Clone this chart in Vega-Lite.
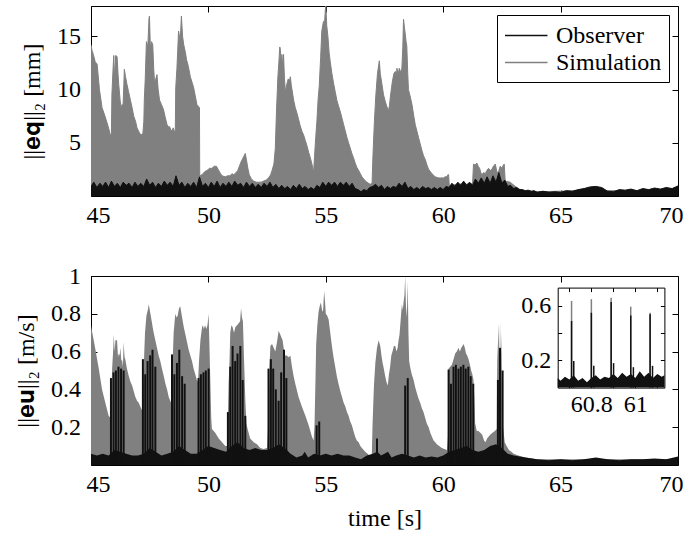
{
  "$schema": "https://vega.github.io/schema/vega-lite/v6.json",
  "padding": {"left": 14, "top": 5, "right": 5, "bottom": 5},
  "spacing": 37,
  "config": {
    "view": {"stroke": null},
    "font": "Liberation Serif",
    "style": {"guide-label": {"font": "Liberation Serif"}, "guide-title": {"font": "Liberation Serif"}},
    "axis": {"labelFont": "Liberation Serif", "labelFontSize": 24, "labelColor": "#000", "titleFont": "Liberation Serif", "titleFontSize": 24, "titleFontWeight": "normal", "titleColor": "#000", "domainColor": "#000", "tickColor": "#000", "grid": false, "zindex": 1, "tickSize": -6, "domainWidth": 1, "tickWidth": 1},
    "legend": {"orient": "top-right", "offset": 9, "padding": 7, "strokeColor": "#000", "fillColor": "#fff", "symbolType": "M-1,0H2.4", "symbolSize": 625, "symbolStrokeWidth": 1.5, "labelFont": "Liberation Serif", "labelFontSize": 24, "labelColor": "#000", "labelOffset": 25, "rowPadding": 1, "labelLimit": 300}
  },
  "resolve": {"scale": {"color": "independent"}, "legend": {"color": "independent"}},
  "datasets": {
    "topSim": [
      {"t":45.00,"v":14.2},{"t":45.04,"v":13.7},{"t":45.10,"v":13.3},{"t":45.18,"v":12.6},{"t":45.26,"v":12.4},{"t":45.36,"v":10.0},{"t":45.47,"v":8.3},{"t":45.58,"v":7.6},{"t":45.68,"v":6.9},{"t":45.76,"v":6.3},{"t":45.83,"v":5.6},{"t":45.87,"v":6.0},{"t":45.89,"v":9.5},{"t":45.93,"v":11.5},{"t":45.97,"v":13.2},{"t":46.00,"v":11.0},{"t":46.05,"v":13.2},{"t":46.11,"v":13.1},{"t":46.15,"v":11.5},{"t":46.18,"v":10.5},{"t":46.24,"v":9.0},{"t":46.28,"v":8.3},{"t":46.33,"v":8.6},{"t":46.36,"v":8.3},{"t":46.40,"v":10.5},{"t":46.42,"v":11.9},{"t":46.47,"v":11.2},{"t":46.53,"v":10.5},{"t":46.60,"v":9.8},{"t":46.68,"v":9.0},{"t":46.75,"v":8.3},{"t":46.82,"v":7.5},{"t":46.90,"v":7.0},{"t":46.96,"v":6.4},{"t":47.05,"v":6.0},{"t":47.13,"v":5.7},{"t":47.21,"v":5.9},{"t":47.25,"v":7.0},{"t":47.27,"v":9.0},{"t":47.31,"v":11.0},{"t":47.36,"v":14.5},{"t":47.42,"v":14.0},{"t":47.47,"v":16.7},{"t":47.49,"v":16.9},{"t":47.53,"v":13.8},{"t":47.58,"v":14.5},{"t":47.63,"v":14.2},{"t":47.67,"v":12.0},{"t":47.71,"v":10.5},{"t":47.76,"v":11.0},{"t":47.81,"v":11.4},{"t":47.86,"v":10.0},{"t":47.92,"v":9.0},{"t":48.00,"v":8.6},{"t":48.09,"v":8.1},{"t":48.16,"v":7.4},{"t":48.24,"v":6.7},{"t":48.30,"v":6.5},{"t":48.35,"v":6.5},{"t":48.40,"v":6.2},{"t":48.45,"v":6.1},{"t":48.50,"v":6.4},{"t":48.55,"v":6.1},{"t":48.59,"v":6.0},{"t":48.61,"v":10.2},{"t":48.66,"v":12.0},{"t":48.73,"v":15.5},{"t":48.80,"v":14.5},{"t":48.85,"v":16.9},{"t":48.90,"v":15.0},{"t":48.95,"v":14.2},{"t":49.02,"v":13.5},{"t":49.07,"v":12.8},{"t":49.12,"v":12.4},{"t":49.18,"v":11.8},{"t":49.23,"v":11.2},{"t":49.30,"v":10.7},{"t":49.37,"v":10.2},{"t":49.44,"v":9.4},{"t":49.51,"v":8.6},{"t":49.58,"v":8.4},{"t":49.62,"v":8.3},{"t":49.63,"v":1.9},{"t":49.73,"v":2.0},{"t":49.85,"v":2.3},{"t":49.94,"v":2.4},{"t":50.05,"v":2.6},{"t":50.15,"v":2.6},{"t":50.25,"v":2.8},{"t":50.34,"v":2.8},{"t":50.44,"v":2.4},{"t":50.52,"v":2.1},{"t":50.58,"v":1.9},{"t":50.72,"v":1.8},{"t":50.82,"v":1.9},{"t":50.93,"v":1.9},{"t":51.00,"v":2.1},{"t":51.08,"v":2.0},{"t":51.18,"v":2.2},{"t":51.25,"v":2.4},{"t":51.32,"v":2.8},{"t":51.39,"v":3.2},{"t":51.48,"v":3.6},{"t":51.57,"v":4.0},{"t":51.62,"v":3.4},{"t":51.68,"v":2.6},{"t":51.74,"v":2.0},{"t":51.83,"v":1.6},{"t":51.93,"v":1.4},{"t":52.04,"v":1.3},{"t":52.14,"v":1.3},{"t":52.25,"v":1.3},{"t":52.35,"v":1.4},{"t":52.46,"v":1.5},{"t":52.56,"v":1.7},{"t":52.65,"v":2.0},{"t":52.71,"v":2.4},{"t":52.79,"v":3.0},{"t":52.85,"v":4.5},{"t":52.90,"v":8.0},{"t":52.96,"v":11.2},{"t":53.00,"v":12.5},{"t":53.04,"v":14.0},{"t":53.06,"v":13.8},{"t":53.10,"v":12.5},{"t":53.13,"v":13.3},{"t":53.17,"v":12.0},{"t":53.20,"v":13.3},{"t":53.24,"v":11.0},{"t":53.28,"v":9.8},{"t":53.34,"v":10.5},{"t":53.40,"v":11.0},{"t":53.45,"v":10.8},{"t":53.49,"v":11.2},{"t":53.53,"v":10.4},{"t":53.56,"v":10.0},{"t":53.63,"v":9.0},{"t":53.70,"v":8.3},{"t":53.77,"v":7.8},{"t":53.84,"v":7.2},{"t":53.91,"v":6.6},{"t":53.98,"v":6.1},{"t":54.06,"v":5.7},{"t":54.13,"v":5.2},{"t":54.20,"v":4.7},{"t":54.27,"v":4.1},{"t":54.34,"v":3.6},{"t":54.41,"v":3.0},{"t":54.48,"v":2.2},{"t":54.52,"v":3.7},{"t":54.57,"v":5.5},{"t":54.62,"v":7.0},{"t":54.67,"v":9.0},{"t":54.72,"v":10.3},{"t":54.78,"v":13.0},{"t":54.83,"v":15.5},{"t":54.90,"v":16.4},{"t":54.95,"v":16.4},{"t":54.98,"v":17.5},{"t":55.00,"v":17.9},{"t":55.04,"v":16.0},{"t":55.09,"v":15.0},{"t":55.14,"v":13.5},{"t":55.19,"v":12.6},{"t":55.26,"v":11.5},{"t":55.33,"v":10.6},{"t":55.40,"v":9.8},{"t":55.47,"v":9.0},{"t":55.55,"v":8.4},{"t":55.62,"v":7.9},{"t":55.69,"v":7.3},{"t":55.76,"v":6.7},{"t":55.83,"v":6.1},{"t":55.90,"v":5.5},{"t":55.97,"v":5.0},{"t":56.04,"v":4.5},{"t":56.11,"v":4.0},{"t":56.18,"v":3.6},{"t":56.25,"v":3.1},{"t":56.32,"v":2.7},{"t":56.40,"v":2.4},{"t":56.47,"v":2.1},{"t":56.54,"v":1.8},{"t":56.61,"v":1.6},{"t":56.68,"v":1.45},{"t":56.75,"v":1.3},{"t":56.82,"v":1.2},{"t":56.89,"v":1.1},{"t":56.97,"v":1.2},{"t":57.01,"v":3.9},{"t":57.07,"v":7.0},{"t":57.13,"v":9.4},{"t":57.20,"v":11.5},{"t":57.28,"v":12.7},{"t":57.32,"v":11.5},{"t":57.39,"v":10.5},{"t":57.46,"v":9.5},{"t":57.53,"v":8.9},{"t":57.60,"v":8.4},{"t":57.67,"v":8.0},{"t":57.71,"v":8.5},{"t":57.75,"v":9.3},{"t":57.80,"v":10.2},{"t":57.84,"v":10.8},{"t":57.90,"v":11.5},{"t":57.96,"v":11.7},{"t":58.00,"v":11.2},{"t":58.03,"v":12.0},{"t":58.08,"v":11.4},{"t":58.13,"v":12.0},{"t":58.19,"v":11.6},{"t":58.24,"v":12.0},{"t":58.28,"v":14.0},{"t":58.31,"v":16.6},{"t":58.35,"v":15.8},{"t":58.38,"v":15.3},{"t":58.42,"v":14.5},{"t":58.45,"v":14.1},{"t":58.49,"v":11.5},{"t":58.52,"v":10.0},{"t":58.60,"v":9.3},{"t":58.67,"v":8.6},{"t":58.74,"v":7.6},{"t":58.81,"v":6.7},{"t":58.88,"v":6.1},{"t":58.95,"v":5.5},{"t":59.02,"v":4.9},{"t":59.09,"v":4.3},{"t":59.16,"v":3.8},{"t":59.24,"v":3.4},{"t":59.31,"v":2.9},{"t":59.38,"v":2.5},{"t":59.45,"v":2.3},{"t":59.52,"v":2.1},{"t":59.59,"v":1.95},{"t":59.66,"v":1.8},{"t":59.73,"v":1.75},{"t":59.80,"v":1.7},{"t":59.90,"v":1.7},{"t":60.01,"v":1.7},{"t":60.08,"v":1.8},{"t":60.16,"v":1.8},{"t":60.20,"v":2.0},{"t":60.23,"v":2.0},{"t":60.26,"v":0.95},{"t":60.40,"v":1.0},{"t":60.55,"v":1.1},{"t":60.70,"v":1.1},{"t":60.85,"v":1.2},{"t":61.00,"v":1.1},{"t":61.15,"v":1.2},{"t":61.25,"v":1.1},{"t":61.29,"v":3.0},{"t":61.36,"v":2.9},{"t":61.43,"v":3.1},{"t":61.49,"v":2.8},{"t":61.55,"v":2.6},{"t":61.60,"v":2.2},{"t":61.65,"v":2.0},{"t":61.72,"v":2.2},{"t":61.79,"v":2.1},{"t":61.86,"v":2.4},{"t":61.93,"v":2.6},{"t":62.00,"v":2.4},{"t":62.07,"v":2.5},{"t":62.14,"v":2.8},{"t":62.22,"v":3.0},{"t":62.29,"v":2.2},{"t":62.36,"v":2.3},{"t":62.43,"v":2.8},{"t":62.50,"v":2.6},{"t":62.56,"v":2.9},{"t":62.60,"v":3.0},{"t":62.64,"v":1.4},{"t":62.75,"v":1.35},{"t":62.85,"v":1.3},{"t":62.96,"v":1.1},{"t":63.07,"v":0.9},{"t":63.18,"v":0.75},{"t":63.28,"v":0.6},{"t":63.40,"v":0.5},{"t":64.00,"v":0.4},{"t":66.00,"v":0.5},{"t":68.00,"v":0.5},{"t":70.00,"v":0.6}
    ],
    "topObs": [
      {"t":45.00,"v":0.9},{"t":45.12,"v":1.3},{"t":45.25,"v":0.8},{"t":45.38,"v":1.2},{"t":45.50,"v":0.9},{"t":45.62,"v":1.3},{"t":45.75,"v":0.8},{"t":45.87,"v":1.4},{"t":46.00,"v":0.9},{"t":46.12,"v":1.2},{"t":46.25,"v":0.8},{"t":46.37,"v":1.3},{"t":46.50,"v":1.0},{"t":46.62,"v":1.2},{"t":46.75,"v":0.8},{"t":46.87,"v":1.3},{"t":47.00,"v":0.9},{"t":47.12,"v":1.2},{"t":47.25,"v":0.9},{"t":47.37,"v":1.6},{"t":47.50,"v":1.0},{"t":47.62,"v":1.3},{"t":47.75,"v":0.8},{"t":47.87,"v":1.2},{"t":48.00,"v":0.9},{"t":48.12,"v":1.4},{"t":48.25,"v":1.0},{"t":48.37,"v":1.3},{"t":48.50,"v":0.9},{"t":48.62,"v":1.9},{"t":48.75,"v":1.0},{"t":48.87,"v":1.3},{"t":49.00,"v":0.8},{"t":49.12,"v":1.2},{"t":49.25,"v":0.9},{"t":49.37,"v":1.3},{"t":49.50,"v":0.8},{"t":49.62,"v":1.8},{"t":49.75,"v":0.9},{"t":49.87,"v":1.2},{"t":50.00,"v":0.8},{"t":50.12,"v":1.3},{"t":50.25,"v":0.9},{"t":50.37,"v":1.4},{"t":50.50,"v":0.8},{"t":50.62,"v":1.2},{"t":50.75,"v":0.9},{"t":50.87,"v":1.3},{"t":51.00,"v":0.9},{"t":51.12,"v":1.4},{"t":51.25,"v":1.0},{"t":51.37,"v":1.2},{"t":51.50,"v":0.8},{"t":51.62,"v":1.3},{"t":51.75,"v":0.9},{"t":51.87,"v":1.2},{"t":52.00,"v":0.8},{"t":52.12,"v":1.1},{"t":52.25,"v":0.8},{"t":52.37,"v":1.2},{"t":52.50,"v":0.9},{"t":52.62,"v":1.3},{"t":52.75,"v":0.8},{"t":52.87,"v":1.1},{"t":53.00,"v":0.7},{"t":53.12,"v":1.0},{"t":53.25,"v":0.7},{"t":53.37,"v":0.9},{"t":53.50,"v":0.6},{"t":53.62,"v":1.0},{"t":53.75,"v":0.7},{"t":53.87,"v":1.1},{"t":54.00,"v":0.7},{"t":54.12,"v":0.9},{"t":54.25,"v":0.6},{"t":54.37,"v":0.8},{"t":54.50,"v":0.6},{"t":54.62,"v":1.0},{"t":54.75,"v":0.8},{"t":54.87,"v":1.3},{"t":55.00,"v":0.9},{"t":55.12,"v":1.3},{"t":55.25,"v":1.0},{"t":55.37,"v":1.3},{"t":55.50,"v":0.9},{"t":55.62,"v":1.3},{"t":55.75,"v":1.0},{"t":55.87,"v":1.3},{"t":56.00,"v":0.9},{"t":56.12,"v":1.2},{"t":56.25,"v":0.7},{"t":56.37,"v":0.6},{"t":56.50,"v":0.4},{"t":56.62,"v":0.6},{"t":56.75,"v":0.5},{"t":56.87,"v":0.8},{"t":57.00,"v":0.9},{"t":57.12,"v":1.1},{"t":57.25,"v":0.8},{"t":57.37,"v":1.0},{"t":57.50,"v":0.6},{"t":57.62,"v":0.9},{"t":57.75,"v":0.7},{"t":57.87,"v":0.9},{"t":58.00,"v":0.8},{"t":58.12,"v":1.2},{"t":58.25,"v":0.9},{"t":58.37,"v":1.3},{"t":58.50,"v":0.7},{"t":58.62,"v":0.9},{"t":58.75,"v":0.6},{"t":58.87,"v":0.8},{"t":59.00,"v":0.6},{"t":59.12,"v":0.9},{"t":59.25,"v":0.7},{"t":59.37,"v":0.8},{"t":59.50,"v":0.6},{"t":59.62,"v":0.8},{"t":59.75,"v":0.6},{"t":59.87,"v":0.8},{"t":60.00,"v":0.6},{"t":60.12,"v":0.9},{"t":60.25,"v":0.8},{"t":60.37,"v":1.2},{"t":60.50,"v":0.9},{"t":60.62,"v":1.3},{"t":60.75,"v":1.0},{"t":60.87,"v":1.4},{"t":61.00,"v":1.0},{"t":61.12,"v":1.3},{"t":61.25,"v":1.0},{"t":61.37,"v":1.6},{"t":61.50,"v":1.2},{"t":61.62,"v":1.7},{"t":61.75,"v":1.2},{"t":61.87,"v":1.8},{"t":62.00,"v":1.2},{"t":62.12,"v":1.9},{"t":62.25,"v":1.3},{"t":62.37,"v":2.2},{"t":62.50,"v":1.2},{"t":62.62,"v":1.5},{"t":62.75,"v":0.9},{"t":62.87,"v":1.0},{"t":63.00,"v":0.7},{"t":63.12,"v":0.8},{"t":63.25,"v":0.6},{"t":63.37,"v":0.6},{"t":63.50,"v":0.5},{"t":63.62,"v":0.55},{"t":63.75,"v":0.45},{"t":63.87,"v":0.5},{"t":64.00,"v":0.35},{"t":64.25,"v":0.45},{"t":64.50,"v":0.35},{"t":64.75,"v":0.4},{"t":65.00,"v":0.35},{"t":65.25,"v":0.5},{"t":65.50,"v":0.45},{"t":65.75,"v":0.6},{"t":66.00,"v":0.7},{"t":66.25,"v":0.85},{"t":66.50,"v":0.9},{"t":66.75,"v":0.8},{"t":67.00,"v":0.45},{"t":67.25,"v":0.4},{"t":67.50,"v":0.6},{"t":67.75,"v":0.55},{"t":68.00,"v":0.65},{"t":68.25,"v":0.5},{"t":68.50,"v":0.7},{"t":68.75,"v":0.6},{"t":69.00,"v":0.75},{"t":69.25,"v":0.65},{"t":69.50,"v":0.8},{"t":69.75,"v":0.7},{"t":70.00,"v":0.95}
    ],
    "botSim": [
      {"t":45.00,"v":0.74},{"t":45.04,"v":0.71},{"t":45.19,"v":0.61},{"t":45.33,"v":0.51},{"t":45.47,"v":0.40},{"t":45.61,"v":0.33},{"t":45.75,"v":0.26},{"t":45.82,"v":0.25},{"t":45.85,"v":0.30},{"t":45.90,"v":0.51},{"t":45.95,"v":0.62},{"t":45.97,"v":0.69},{"t":46.01,"v":0.60},{"t":46.04,"v":0.66},{"t":46.11,"v":0.66},{"t":46.15,"v":0.57},{"t":46.18,"v":0.59},{"t":46.22,"v":0.58},{"t":46.25,"v":0.62},{"t":46.29,"v":0.55},{"t":46.32,"v":0.56},{"t":46.36,"v":0.52},{"t":46.39,"v":0.65},{"t":46.43,"v":0.57},{"t":46.46,"v":0.56},{"t":46.53,"v":0.51},{"t":46.61,"v":0.47},{"t":46.68,"v":0.44},{"t":46.75,"v":0.42},{"t":46.82,"v":0.39},{"t":46.89,"v":0.36},{"t":46.96,"v":0.34},{"t":47.03,"v":0.33},{"t":47.10,"v":0.31},{"t":47.17,"v":0.29},{"t":47.21,"v":0.30},{"t":47.24,"v":0.50},{"t":47.30,"v":0.70},{"t":47.36,"v":0.79},{"t":47.42,"v":0.82},{"t":47.46,"v":0.85},{"t":47.53,"v":0.80},{"t":47.60,"v":0.75},{"t":47.64,"v":0.72},{"t":47.67,"v":0.70},{"t":47.74,"v":0.66},{"t":47.81,"v":0.62},{"t":47.88,"v":0.58},{"t":47.95,"v":0.55},{"t":48.02,"v":0.51},{"t":48.10,"v":0.47},{"t":48.17,"v":0.43},{"t":48.24,"v":0.40},{"t":48.31,"v":0.36},{"t":48.41,"v":0.33},{"t":48.45,"v":0.45},{"t":48.52,"v":0.70},{"t":48.59,"v":0.80},{"t":48.64,"v":0.78},{"t":48.69,"v":0.79},{"t":48.75,"v":0.83},{"t":48.80,"v":0.84},{"t":48.88,"v":0.78},{"t":48.95,"v":0.73},{"t":49.02,"v":0.69},{"t":49.09,"v":0.65},{"t":49.16,"v":0.61},{"t":49.23,"v":0.58},{"t":49.30,"v":0.55},{"t":49.37,"v":0.51},{"t":49.44,"v":0.48},{"t":49.51,"v":0.45},{"t":49.56,"v":0.44},{"t":49.60,"v":0.55},{"t":49.66,"v":0.66},{"t":49.73,"v":0.73},{"t":49.77,"v":0.74},{"t":49.80,"v":0.72},{"t":49.86,"v":0.74},{"t":49.91,"v":0.72},{"t":49.96,"v":0.74},{"t":50.01,"v":0.80},{"t":50.05,"v":0.60},{"t":50.08,"v":0.45},{"t":50.12,"v":0.25},{"t":50.15,"v":0.19},{"t":50.29,"v":0.17},{"t":50.44,"v":0.14},{"t":50.58,"v":0.12},{"t":50.72,"v":0.10},{"t":50.80,"v":0.10},{"t":50.82,"v":0.20},{"t":50.86,"v":0.43},{"t":50.90,"v":0.55},{"t":50.93,"v":0.70},{"t":50.98,"v":0.74},{"t":51.03,"v":0.73},{"t":51.09,"v":0.70},{"t":51.15,"v":0.73},{"t":51.22,"v":0.74},{"t":51.29,"v":0.75},{"t":51.35,"v":0.76},{"t":51.39,"v":0.83},{"t":51.43,"v":0.78},{"t":51.47,"v":0.76},{"t":51.52,"v":0.55},{"t":51.57,"v":0.35},{"t":51.62,"v":0.22},{"t":51.67,"v":0.19},{"t":51.78,"v":0.14},{"t":51.93,"v":0.12},{"t":52.07,"v":0.11},{"t":52.21,"v":0.09},{"t":52.35,"v":0.085},{"t":52.50,"v":0.09},{"t":52.56,"v":0.25},{"t":52.60,"v":0.52},{"t":52.64,"v":0.63},{"t":52.71,"v":0.64},{"t":52.78,"v":0.62},{"t":52.85,"v":0.60},{"t":52.92,"v":0.65},{"t":52.99,"v":0.71},{"t":53.06,"v":0.69},{"t":53.16,"v":0.66},{"t":53.25,"v":0.58},{"t":53.34,"v":0.58},{"t":53.42,"v":0.57},{"t":53.49,"v":0.58},{"t":53.56,"v":0.52},{"t":53.63,"v":0.47},{"t":53.70,"v":0.43},{"t":53.84,"v":0.36},{"t":53.98,"v":0.31},{"t":54.13,"v":0.26},{"t":54.27,"v":0.21},{"t":54.41,"v":0.15},{"t":54.48,"v":0.13},{"t":54.52,"v":0.21},{"t":54.56,"v":0.45},{"t":54.59,"v":0.64},{"t":54.64,"v":0.74},{"t":54.69,"v":0.81},{"t":54.74,"v":0.84},{"t":54.79,"v":0.86},{"t":54.84,"v":0.82},{"t":54.88,"v":0.81},{"t":54.93,"v":0.92},{"t":54.97,"v":0.86},{"t":55.00,"v":0.80},{"t":55.06,"v":0.79},{"t":55.12,"v":0.77},{"t":55.19,"v":0.70},{"t":55.26,"v":0.63},{"t":55.33,"v":0.57},{"t":55.40,"v":0.52},{"t":55.47,"v":0.47},{"t":55.54,"v":0.43},{"t":55.62,"v":0.39},{"t":55.69,"v":0.36},{"t":55.76,"v":0.33},{"t":55.83,"v":0.31},{"t":55.90,"v":0.28},{"t":55.97,"v":0.26},{"t":56.04,"v":0.23},{"t":56.11,"v":0.21},{"t":56.18,"v":0.18},{"t":56.25,"v":0.15},{"t":56.32,"v":0.13},{"t":56.40,"v":0.12},{"t":56.47,"v":0.10},{"t":56.54,"v":0.09},{"t":56.61,"v":0.08},{"t":56.68,"v":0.07},{"t":56.78,"v":0.06},{"t":56.89,"v":0.046},{"t":56.96,"v":0.06},{"t":56.99,"v":0.21},{"t":57.05,"v":0.42},{"t":57.11,"v":0.54},{"t":57.18,"v":0.62},{"t":57.25,"v":0.66},{"t":57.32,"v":0.63},{"t":57.37,"v":0.58},{"t":57.42,"v":0.54},{"t":57.47,"v":0.51},{"t":57.53,"v":0.47},{"t":57.58,"v":0.44},{"t":57.64,"v":0.42},{"t":57.69,"v":0.48},{"t":57.74,"v":0.52},{"t":57.79,"v":0.58},{"t":57.84,"v":0.60},{"t":57.90,"v":0.63},{"t":57.96,"v":0.63},{"t":58.01,"v":0.60},{"t":58.06,"v":0.62},{"t":58.10,"v":0.66},{"t":58.14,"v":0.69},{"t":58.19,"v":0.77},{"t":58.24,"v":0.85},{"t":58.28,"v":0.82},{"t":58.31,"v":0.86},{"t":58.35,"v":0.90},{"t":58.38,"v":0.999},{"t":58.41,"v":0.85},{"t":58.45,"v":0.78},{"t":58.49,"v":0.97},{"t":58.52,"v":0.70},{"t":58.55,"v":0.55},{"t":58.59,"v":0.52},{"t":58.66,"v":0.48},{"t":58.74,"v":0.45},{"t":58.81,"v":0.41},{"t":58.88,"v":0.38},{"t":58.95,"v":0.35},{"t":59.02,"v":0.33},{"t":59.09,"v":0.30},{"t":59.16,"v":0.28},{"t":59.23,"v":0.25},{"t":59.30,"v":0.22},{"t":59.38,"v":0.20},{"t":59.45,"v":0.17},{"t":59.52,"v":0.15},{"t":59.59,"v":0.13},{"t":59.66,"v":0.12},{"t":59.73,"v":0.11},{"t":59.83,"v":0.10},{"t":59.94,"v":0.09},{"t":60.05,"v":0.085},{"t":60.16,"v":0.08},{"t":60.20,"v":0.15},{"t":60.23,"v":0.51},{"t":60.30,"v":0.52},{"t":60.37,"v":0.53},{"t":60.44,"v":0.56},{"t":60.51,"v":0.59},{"t":60.58,"v":0.60},{"t":60.65,"v":0.62},{"t":60.71,"v":0.60},{"t":60.77,"v":0.62},{"t":60.82,"v":0.63},{"t":60.87,"v":0.64},{"t":60.92,"v":0.62},{"t":60.97,"v":0.59},{"t":61.02,"v":0.58},{"t":61.08,"v":0.56},{"t":61.14,"v":0.53},{"t":61.19,"v":0.50},{"t":61.24,"v":0.48},{"t":61.29,"v":0.45},{"t":61.33,"v":0.35},{"t":61.36,"v":0.22},{"t":61.43,"v":0.18},{"t":61.50,"v":0.18},{"t":61.58,"v":0.17},{"t":61.66,"v":0.16},{"t":61.74,"v":0.13},{"t":61.80,"v":0.12},{"t":61.87,"v":0.14},{"t":61.93,"v":0.15},{"t":62.00,"v":0.16},{"t":62.10,"v":0.17},{"t":62.20,"v":0.18},{"t":62.28,"v":0.19},{"t":62.30,"v":0.55},{"t":62.33,"v":0.64},{"t":62.36,"v":0.75},{"t":62.39,"v":0.45},{"t":62.42,"v":0.76},{"t":62.45,"v":0.50},{"t":62.48,"v":0.70},{"t":62.51,"v":0.35},{"t":62.55,"v":0.20},{"t":62.62,"v":0.12},{"t":62.70,"v":0.10},{"t":62.80,"v":0.08},{"t":62.90,"v":0.07},{"t":63.00,"v":0.06},{"t":63.20,"v":0.05},{"t":63.50,"v":0.04},{"t":64.00,"v":0.03},{"t":66.00,"v":0.03},{"t":68.00,"v":0.03},{"t":70.00,"v":0.03}
    ],
    "botObs": [
      {"t":45.0,"v":0.06},{"t":45.25,"v":0.05},{"t":45.5,"v":0.06},{"t":45.75,"v":0.05},{"t":46.0,"v":0.08},{"t":46.25,"v":0.07},{"t":46.5,"v":0.06},{"t":46.75,"v":0.05},{"t":47.0,"v":0.05},{"t":47.25,"v":0.06},{"t":47.5,"v":0.09},{"t":47.75,"v":0.07},{"t":48.0,"v":0.05},{"t":48.25,"v":0.06},{"t":48.5,"v":0.07},{"t":48.75,"v":0.10},{"t":49.0,"v":0.08},{"t":49.25,"v":0.06},{"t":49.5,"v":0.06},{"t":49.75,"v":0.08},{"t":50.0,"v":0.10},{"t":50.25,"v":0.09},{"t":50.5,"v":0.08},{"t":50.75,"v":0.07},{"t":51.0,"v":0.10},{"t":51.25,"v":0.12},{"t":51.5,"v":0.09},{"t":51.75,"v":0.08},{"t":52.0,"v":0.09},{"t":52.25,"v":0.08},{"t":52.5,"v":0.08},{"t":52.75,"v":0.09},{"t":53.0,"v":0.11},{"t":53.25,"v":0.09},{"t":53.5,"v":0.06},{"t":53.75,"v":0.04},{"t":54.0,"v":0.05},{"t":54.1,"v":0.07},{"t":54.25,"v":0.04},{"t":54.5,"v":0.06},{"t":54.75,"v":0.05},{"t":55.0,"v":0.06},{"t":55.25,"v":0.05},{"t":55.5,"v":0.06},{"t":55.75,"v":0.05},{"t":56.0,"v":0.05},{"t":56.25,"v":0.04},{"t":56.5,"v":0.03},{"t":56.75,"v":0.05},{"t":57.0,"v":0.06},{"t":57.2,"v":0.07},{"t":57.35,"v":0.05},{"t":57.5,"v":0.06},{"t":57.65,"v":0.07},{"t":57.8,"v":0.04},{"t":58.0,"v":0.05},{"t":58.25,"v":0.06},{"t":58.5,"v":0.05},{"t":58.75,"v":0.04},{"t":59.0,"v":0.05},{"t":59.25,"v":0.04},{"t":59.5,"v":0.045},{"t":59.75,"v":0.04},{"t":60.0,"v":0.05},{"t":60.25,"v":0.07},{"t":60.5,"v":0.08},{"t":60.75,"v":0.09},{"t":61.0,"v":0.10},{"t":61.25,"v":0.08},{"t":61.5,"v":0.07},{"t":61.75,"v":0.08},{"t":62.0,"v":0.10},{"t":62.25,"v":0.11},{"t":62.5,"v":0.09},{"t":62.75,"v":0.06},{"t":63.0,"v":0.05},{"t":63.5,"v":0.04},{"t":64.0,"v":0.03},{"t":64.5,"v":0.025},{"t":65.0,"v":0.03},{"t":65.5,"v":0.025},{"t":66.0,"v":0.03},{"t":66.5,"v":0.04},{"t":67.0,"v":0.03},{"t":67.5,"v":0.025},{"t":68.0,"v":0.03},{"t":68.5,"v":0.03},{"t":69.0,"v":0.035},{"t":69.5,"v":0.03},{"t":70.0,"v":0.045}
    ],
    "botSpk": [
      {"t":45.85,"v":0.46},{"t":45.96,"v":0.49},{"t":46.06,"v":0.50},{"t":46.17,"v":0.52},{"t":46.28,"v":0.51},{"t":46.39,"v":0.50},
      {"t":47.21,"v":0.56},{"t":47.31,"v":0.48},{"t":47.41,"v":0.55},{"t":47.52,"v":0.58},{"t":47.62,"v":0.61},{"t":47.74,"v":0.52},
      {"t":48.45,"v":0.585},{"t":48.55,"v":0.48},{"t":48.66,"v":0.54},{"t":48.76,"v":0.61},{"t":48.88,"v":0.47},{"t":48.99,"v":0.43},
      {"t":49.58,"v":0.46},{"t":49.68,"v":0.48},{"t":49.79,"v":0.49},{"t":49.89,"v":0.50},{"t":50.01,"v":0.51},
      {"t":50.83,"v":0.28},{"t":50.93,"v":0.52},{"t":51.03,"v":0.63},{"t":51.14,"v":0.55},{"t":51.24,"v":0.59},{"t":51.36,"v":0.63},{"t":51.46,"v":0.45},{"t":51.57,"v":0.26},
      {"t":52.56,"v":0.51},{"t":52.66,"v":0.56},{"t":52.76,"v":0.51},{"t":52.87,"v":0.40},{"t":52.99,"v":0.34},{"t":53.10,"v":0.49},{"t":53.22,"v":0.61},{"t":53.32,"v":0.46},
      {"t":54.61,"v":0.21},{"t":54.72,"v":0.23},{"t":57.18,"v":0.14},{"t":58.38,"v":0.42},{"t":58.49,"v":0.46},
      {"t":60.23,"v":0.505},{"t":60.33,"v":0.43},{"t":60.44,"v":0.52},{"t":60.54,"v":0.53},{"t":60.65,"v":0.51},{"t":60.75,"v":0.52},{"t":60.86,"v":0.53},{"t":60.96,"v":0.51},{"t":61.07,"v":0.52},{"t":61.17,"v":0.47},{"t":61.28,"v":0.43},
      {"t":62.33,"v":0.45},{"t":62.42,"v":0.62},{"t":62.53,"v":0.50}
    ],
    "insObs": [
      {"t":60.647,"v":0.07},{"t":60.66,"v":0.05},{"t":60.68,"v":0.08},{"t":60.70,"v":0.06},{"t":60.72,"v":0.09},{"t":60.74,"v":0.05},{"t":60.76,"v":0.07},{"t":60.78,"v":0.04},{"t":60.80,"v":0.07},{"t":60.82,"v":0.09},{"t":60.84,"v":0.06},{"t":60.86,"v":0.08},{"t":60.88,"v":0.07},{"t":60.90,"v":0.10},{"t":60.92,"v":0.07},{"t":60.94,"v":0.11},{"t":60.96,"v":0.08},{"t":60.98,"v":0.10},{"t":61.00,"v":0.07},{"t":61.02,"v":0.12},{"t":61.04,"v":0.08},{"t":61.06,"v":0.11},{"t":61.08,"v":0.07},{"t":61.10,"v":0.10},{"t":61.12,"v":0.08},{"t":61.132,"v":0.09}
    ],
    "insSimSpk": [
      {"t":60.710,"v":0.637},{"t":60.800,"v":0.65},{"t":60.890,"v":0.66},{"t":60.979,"v":0.595},{"t":61.067,"v":0.55}
    ],
    "insObsSpk": [
      {"t":60.710,"v":0.49},{"t":60.800,"v":0.55},{"t":60.890,"v":0.63},{"t":60.979,"v":0.53},{"t":61.067,"v":0.54},
      {"t":60.720,"v":0.196},{"t":60.811,"v":0.16},{"t":60.901,"v":0.18},{"t":60.991,"v":0.15},{"t":61.078,"v":0.16}
    ]
  },
  "vconcat": [
    {
      "width": 587,
      "height": 190,
      "resolve": {"scale": {"x": "independent", "y": "independent"}},
      "layer": [
        {
          "layer": [
            {"data": {"name": "topSim"}, "mark": {"type": "area", "color": "#808080", "clip": true}},
            {"data": {"name": "topSim"}, "mark": {"type": "line", "strokeWidth": 1, "clip": true},
             "encoding": {"color": {"datum": "Simulation", "type": "nominal", "scale": {"domain": ["Observer", "Simulation"], "range": ["#111111", "#808080"]}, "legend": {"title": null}}}}
          ],
          "encoding": {
            "x": {"field": "t", "type": "quantitative", "scale": {"domain": [45, 70], "nice": false, "zero": false},
                  "axis": {"orient": "bottom", "values": [45, 50, 55, 60, 65, 70], "title": null, "labelFont": "Liberation Serif", "labelPadding": 13, "labelFlush": true, "labelFlushOffset": 5}},
            "y": {"field": "v", "type": "quantitative", "scale": {"domain": [0, 17.85], "nice": false},
                  "axis": {"orient": "left", "values": [5, 10, 15], "title": "||𝐞𝐪||₂ [mm]", "labelFont": "Liberation Serif", "titleFont": "Liberation Serif", "labelPadding": 16.5, "titlePadding": 12}}
          }
        },
        {
          "layer": [
            {"data": {"name": "topObs"}, "mark": {"type": "area", "color": "#111111", "clip": true}},
            {"data": {"name": "topObs"}, "mark": {"type": "line", "strokeWidth": 1, "clip": true},
             "encoding": {"color": {"datum": "Observer", "type": "nominal"}}}
          ],
          "encoding": {
            "x": {"field": "t", "type": "quantitative", "scale": {"domain": [45, 70], "nice": false, "zero": false},
                  "axis": {"orient": "top", "values": [45, 50, 55, 60, 65, 70], "labels": false, "title": null}},
            "y": {"field": "v", "type": "quantitative", "scale": {"domain": [0, 17.85], "nice": false},
                  "axis": {"orient": "right", "values": [5, 10, 15], "labels": false, "title": null}}
          }
        }
      ]
    },
    {
      "width": 587,
      "height": 189,
      "resolve": {"scale": {"x": "independent", "y": "independent"}},
      "layer": [
        {
          "layer": [
            {"data": {"name": "botSim"}, "mark": {"type": "area", "color": "#808080", "clip": true}}
          ],
          "encoding": {
            "x": {"field": "t", "type": "quantitative", "scale": {"domain": [45, 70], "nice": false, "zero": false},
                  "axis": {"orient": "bottom", "values": [45, 50, 55, 60, 65, 70], "title": "time [s]", "labelFont": "Liberation Serif", "titleFont": "Liberation Serif", "labelPadding": 13, "labelFlush": true, "labelFlushOffset": 5, "titlePadding": 10}},
            "y": {"field": "v", "type": "quantitative", "scale": {"domain": [0, 1], "nice": false},
                  "axis": {"orient": "left", "values": [0.2, 0.4, 0.6, 0.8, 1], "labelExpr": "datum.value == 1 ? '1' : datum.label", "title": "||𝐞𝐮||₂ [m/s]", "labelFont": "Liberation Serif", "titleFont": "Liberation Serif", "labelPadding": 16.5, "titlePadding": 12}}
          }
        },
        {
          "layer": [
            {"data": {"name": "botObs"}, "mark": {"type": "area", "color": "#111111", "clip": true}},
            {"data": {"name": "botSpk"}, "mark": {"type": "rule", "color": "#111111", "strokeWidth": 2, "clip": true}, "encoding": {"y2": {"datum": 0}}}
          ],
          "encoding": {
            "x": {"field": "t", "type": "quantitative", "scale": {"domain": [45, 70], "nice": false, "zero": false},
                  "axis": {"orient": "top", "values": [45, 50, 55, 60, 65, 70], "labels": false, "title": null}},
            "y": {"field": "v", "type": "quantitative", "scale": {"domain": [0, 1], "nice": false},
                  "axis": {"orient": "right", "values": [0.2, 0.4, 0.6, 0.8], "labels": false, "title": null}}
          }
        },
        {
          "layer": [
            {"data": {"name": "insSimSpk"}, "mark": {"type": "rule", "color": "#808080", "strokeWidth": 1.5}, "encoding": {"y2": {"datum": 0}}}
          ],
          "encoding": {
            "x": {"field": "t", "type": "quantitative", "scale": {"domain": [60.647, 61.132], "range": [466.7, 573.4], "nice": false, "zero": false},
                  "axis": {"orient": "bottom", "offset": -77.4, "values": [60.7, 60.8, 60.9, 61, 61.1], "labelExpr": "datum.value == 60.8 ? '60.8' : (datum.value == 61 ? '61' : '')", "labelFont": "Liberation Serif", "tickSize": -4, "labelPadding": 9, "labelFlush": false, "title": null}},
            "y": {"field": "v", "type": "quantitative", "scale": {"domain": [0, 0.735], "range": [111.6, 11.6], "nice": false, "zero": false},
                  "axis": {"orient": "left", "offset": -466.7, "values": [0.2, 0.4, 0.6], "labelExpr": "datum.value == 0.2 ? '0.2' : (datum.value == 0.6 ? '0.6' : '')", "labelFont": "Liberation Serif", "tickSize": -4, "labelPadding": 11, "title": null}}
          }
        },
        {
          "layer": [
            {"data": {"name": "insObs"}, "mark": {"type": "area", "color": "#111111"}},
            {"data": {"name": "insObsSpk"}, "mark": {"type": "rule", "color": "#111111", "strokeWidth": 1.5}, "encoding": {"y2": {"datum": 0}}}
          ],
          "encoding": {
            "x": {"field": "t", "type": "quantitative", "scale": {"domain": [60.647, 61.132], "range": [466.7, 573.4], "nice": false, "zero": false},
                  "axis": {"orient": "top", "offset": -11.6, "values": [60.7, 60.8, 60.9, 61, 61.1], "labels": false, "tickSize": -4, "title": null}},
            "y": {"field": "v", "type": "quantitative", "scale": {"domain": [0, 0.735], "range": [111.6, 11.6], "nice": false, "zero": false},
                  "axis": {"orient": "right", "offset": -13.6, "values": [0.2, 0.4, 0.6], "labels": false, "tickSize": -4, "title": null}}
          }
        }
      ]
    }
  ]
}
